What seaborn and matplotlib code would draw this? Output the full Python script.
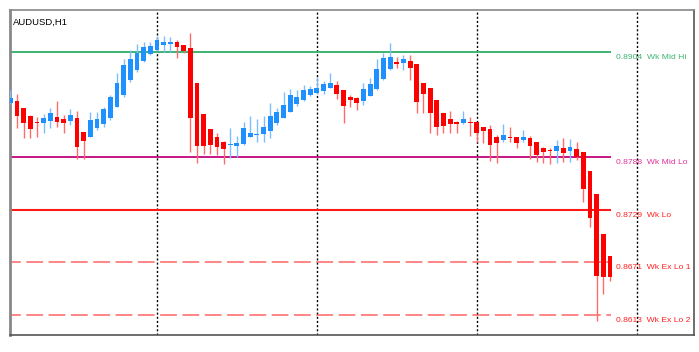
import numpy as np
import seaborn as sns
import matplotlib.pyplot as plt

# AUDUSD H1 candles (oldest -> newest)
opens = [0.88478, 0.88503, 0.88422, 0.88337, 0.88267, 0.88259, 0.88281, 0.88326, 0.88297, 0.88281,
         0.88315, 0.88159, 0.88104, 0.88197, 0.88245, 0.88315, 0.88437, 0.88567, 0.88733, 0.88844,
         0.88944, 0.89022, 0.89066, 0.89122, 0.89136, 0.89151, 0.89122, 0.89085, 0.88696, 0.88356,
         0.88186, 0.88104, 0.88048, 0.88008, 0.88004, 0.88019, 0.88104, 0.88126, 0.88130, 0.88167,
         0.88252, 0.88315, 0.88381, 0.88467, 0.88511, 0.88567, 0.88592, 0.88614, 0.88648, 0.88678,
         0.88622, 0.88541, 0.88530, 0.88500, 0.88559, 0.88630, 0.88741, 0.88852, 0.88930, 0.88918,
         0.88944, 0.88911, 0.88696, 0.88648, 0.88511, 0.88363, 0.88300, 0.88270, 0.88252, 0.88267,
         0.88270, 0.88208, 0.88186, 0.88104, 0.88067, 0.88104, 0.88097, 0.88067, 0.88086, 0.88048,
         0.87975, 0.87953, 0.87948, 0.87975, 0.87945, 0.87964, 0.87931, 0.87726, 0.87468, 0.87024,
         0.86783]
highs = [0.88622, 0.88578, 0.88425, 0.88345, 0.88326, 0.88352, 0.88419, 0.88503, 0.88345, 0.88408,
         0.88389, 0.88159, 0.88381, 0.88375, 0.88437, 0.88567, 0.88814, 0.88963, 0.89066, 0.89133,
         0.89158, 0.89158, 0.89221, 0.89221, 0.89214, 0.89177, 0.89122, 0.89251, 0.88696, 0.88356,
         0.88186, 0.88148, 0.88059, 0.88200, 0.88117, 0.88270, 0.88333, 0.88297, 0.88333, 0.88474,
         0.88419, 0.88603, 0.88630, 0.88622, 0.88678, 0.88666, 0.88770, 0.88725, 0.88807, 0.88722,
         0.88622, 0.88567, 0.88548, 0.88703, 0.88752, 0.88963, 0.89029, 0.89140, 0.88985, 0.89011,
         0.89011, 0.88911, 0.88696, 0.88648, 0.88511, 0.88363, 0.88389, 0.88278, 0.88389, 0.88326,
         0.88270, 0.88215, 0.88234, 0.88123, 0.88245, 0.88208, 0.88097, 0.88178, 0.88111, 0.88048,
         0.87993, 0.87975, 0.88067, 0.88086, 0.88075, 0.88048, 0.87931, 0.87726, 0.87468, 0.87024,
         0.86783]
lows = [0.88467, 0.88200, 0.88093, 0.88093, 0.88104, 0.88148, 0.88197, 0.88215, 0.88141, 0.88234,
        0.87859, 0.87859, 0.88104, 0.88178, 0.88215, 0.88289, 0.88437, 0.88548, 0.88714, 0.88825,
        0.88936, 0.89011, 0.89058, 0.89047, 0.89041, 0.88974, 0.89029, 0.87937, 0.87808, 0.87912,
        0.87912, 0.87901, 0.87801, 0.87864, 0.87882, 0.88012, 0.88097, 0.88048, 0.88048, 0.88086,
        0.88234, 0.88308, 0.88375, 0.88448, 0.88503, 0.88555, 0.88578, 0.88578, 0.88641, 0.88519,
        0.88252, 0.88430, 0.88400, 0.88456, 0.88555, 0.88622, 0.88733, 0.88844, 0.88863, 0.88844,
        0.88733, 0.88363, 0.88363, 0.88141, 0.88123, 0.88141, 0.88141, 0.88141, 0.88245, 0.88111,
        0.88048, 0.88030, 0.87837, 0.87815, 0.88048, 0.88048, 0.87975, 0.88048, 0.87853, 0.87826,
        0.87808, 0.87797, 0.87815, 0.87826, 0.87826, 0.87845, 0.87382, 0.87098, 0.86058, 0.86358,
        0.86505]
closes = [0.88533, 0.88337, 0.88252, 0.88186, 0.88252, 0.88308, 0.88363, 0.88270, 0.88259, 0.88345,
          0.87993, 0.88059, 0.88289, 0.88300, 0.88408, 0.88541, 0.88703, 0.88900, 0.88963, 0.89036,
          0.89103, 0.89110, 0.89177, 0.89151, 0.89151, 0.89096, 0.89058, 0.88308, 0.88000, 0.88000,
          0.88012, 0.87986, 0.87967, 0.88015, 0.88039, 0.88197, 0.88148, 0.88134, 0.88215, 0.88333,
          0.88381, 0.88456, 0.88567, 0.88541, 0.88622, 0.88633, 0.88641, 0.88685, 0.88696, 0.88574,
          0.88448, 0.88514, 0.88474, 0.88630, 0.88685, 0.88852, 0.88974, 0.88992, 0.88907, 0.88963,
          0.88870, 0.88492, 0.88574, 0.88363, 0.88215, 0.88222, 0.88245, 0.88241, 0.88300, 0.88259,
          0.88141, 0.88167, 0.88012, 0.88037, 0.88123, 0.88086, 0.88037, 0.88104, 0.88004, 0.87901,
          0.87931, 0.87945, 0.88000, 0.87919, 0.87993, 0.87882, 0.87523, 0.87205, 0.86561, 0.86543,
          0.86543]

# bar index where each new day starts
day_starts = [22, 46, 70, 94]

level_values = [0.8904, 0.8788, 0.8729, 0.8671, 0.8613]
level_names = ["Wk Mid Hi", "Wk Mid Lo", "Wk Lo", "Wk Ex Lo 1", "Wk Ex Lo 2"]
level_colors = ["#3cb371", "#c71585", "#ff1a1a", "#ff3333", "#ff3333"]
level_text_colors = ["#3cb371", "#e0309a", "#ff2020", "#ff2020", "#ff2020"]
level_styles = ["-", "-", "-", (0, (11, 3.6)), (0, (11, 3.6))]
level_widths = [1.4, 1.4, 1.5, 1.1, 1.1]
level_alphas = [1.0, 1.0, 1.0, 0.75, 0.75]

sns.set_theme(style="white")
plt.rcParams["font.family"] = ["Liberation Sans", "DejaVu Sans"]

fig = plt.figure(figsize=(6.99, 3.52), dpi=100)
ax = fig.add_axes([10 / 699, 17 / 352, 684 / 699, 325 / 352])

x = np.arange(len(opens))
o = np.array(opens)
c = np.array(closes)
up = c >= o

# wicks
ax.vlines(x[up], np.array(lows)[up], np.array(highs)[up], color="#7dbdff", lw=1, zorder=3)
ax.vlines(x[~up], np.array(lows)[~up], np.array(highs)[~up], color="#ff6b6b", lw=1, zorder=3)

# bodies
bottoms = np.minimum(o, c)
heights = np.maximum(np.abs(c - o), 0.00012)
ax.bar(x[up], heights[up], bottom=bottoms[up], width=0.72, color="#1e90ff", lw=0, zorder=4)
ax.bar(x[~up], heights[~up], bottom=bottoms[~up], width=0.72, color="#ff0000", lw=0, zorder=4)

# day separators
for d in day_starts:
    ax.axvline(d, color="black", lw=1, linestyle=(0, (1.5, 1.5)), zorder=2)

# weekly levels
last = len(opens) - 1
for val, name, col, tcol, ls, lw, al in zip(level_values, level_names, level_colors,
                                            level_text_colors, level_styles, level_widths, level_alphas):
    ax.hlines(val, -1, last + 0.2, color=col, lw=lw, linestyle=ls, alpha=al, zorder=2)
    ax.annotate(f"{val:.4f}  {name}", xy=(last + 0.85, val), xytext=(0, -4),
                textcoords="offset points", ha="left", va="center",
                fontsize=6.1, color=tcol, zorder=5)

ax.text(0.005, 0.975, "AUDUSD,H1", transform=ax.transAxes, ha="left", va="top",
        fontsize=6.8, color="black")

ax.set_xlim(-0.05, 102.6)
ax.set_ylim(0.85903, 0.89510)
ax.set_xticks([])
ax.set_yticks([])
for side, sp in ax.spines.items():
    sp.set_visible(True)
    sp.set_color("#555555")
    sp.set_linewidth(1.2)
ax.spines["top"].set_color("#888888")
ax.spines["left"].set_color("#888888")
ax.spines["left"].set_linewidth(2)

fig.savefig("out.png", dpi=100)
